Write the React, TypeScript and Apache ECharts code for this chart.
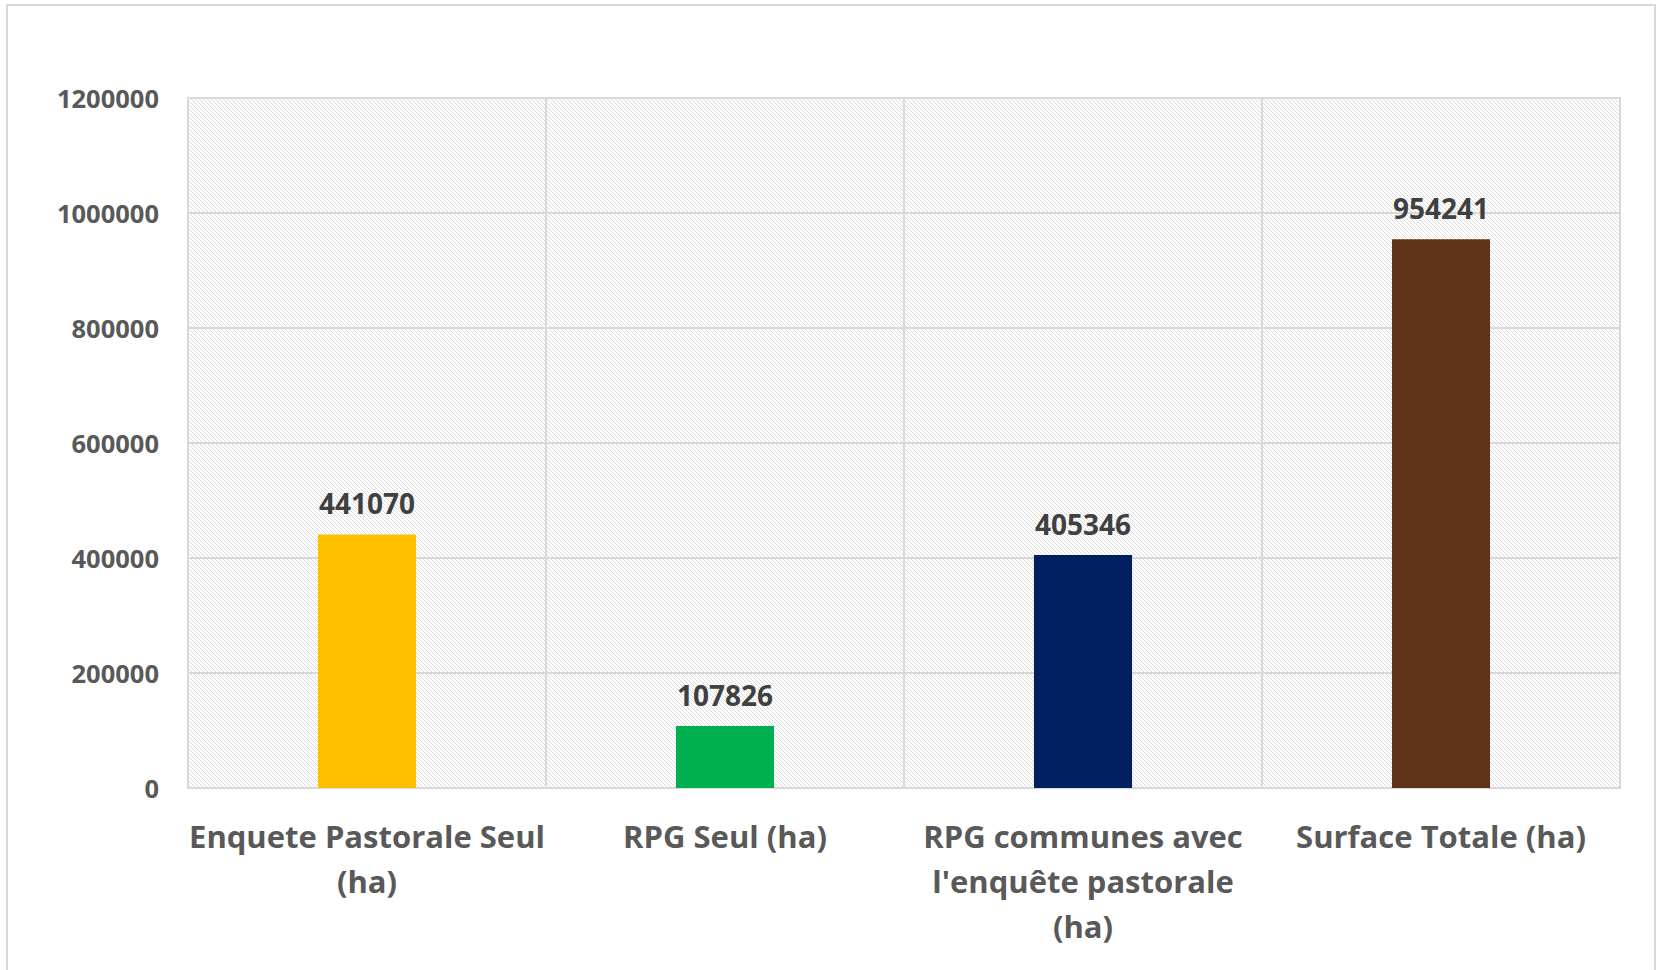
import React, { useEffect, useRef } from "react";
import * as echarts from "echarts";

const categories = [
  "Enquete Pastorale Seul\n(ha)",
  "RPG Seul (ha)",
  "RPG communes avec\nl'enquête pastorale\n(ha)",
  "Surface Totale (ha)",
];
const values = [441070, 107826, 405346, 954241];
const barColors = ["#FFC000", "#00B050", "#002060", "#603318"];
const yTicks = { min: 0, max: 1200000, interval: 200000 };

function makeHatch(): HTMLCanvasElement {
  const c = document.createElement("canvas");
  c.width = 4;
  c.height = 4;
  const ctx = c.getContext("2d")!;
  ctx.fillStyle = "#ffffff";
  ctx.fillRect(0, 0, 4, 4);
  ctx.fillStyle = "#dcdcdc";
  for (let i = 0; i < 4; i++) ctx.fillRect(i, i, 1, 1);
  return c;
}

export default function App() {
  const ref = useRef<HTMLDivElement>(null);
  useEffect(() => {
    if (!ref.current) return;
    const chart = echarts.init(ref.current, undefined, { renderer: "svg" });
    const font = "Open Sans";
    chart.setOption({
      animation: false,
      backgroundColor: "#ffffff",
      graphic: [
        {
          type: "rect",
          shape: { x: 7, y: 5, width: 1648, height: 980 },
          style: { fill: "none", stroke: "#d9d9d9", lineWidth: 2 },
          silent: true,
          z: -1,
        },
      ],
      grid: {
        left: 188,
        right: 37,
        top: 98,
        bottom: 182,
        show: true,
        backgroundColor: { image: makeHatch(), repeat: "repeat" },
        borderColor: "#d9d9d9",
        borderWidth: 2,
      },
      xAxis: {
        type: "category",
        data: categories,
        axisLine: { show: true, lineStyle: { color: "#d9d9d9", width: 2 } },
        axisTick: { show: false },
        splitLine: { show: true, lineStyle: { color: "#d9d9d9", width: 2 } },
        axisLabel: {
          interval: 0,
          margin: 25,
          color: "#595959",
          fontFamily: font,
          fontWeight: "bold",
          fontSize: 31,
          lineHeight: 45,
          align: "center",
        },
      },
      yAxis: {
        type: "value",
        min: yTicks.min,
        max: yTicks.max,
        interval: yTicks.interval,
        axisLine: { show: false },
        axisTick: { show: false },
        splitLine: { show: true, lineStyle: { color: "#d9d9d9", width: 2 } },
        axisLabel: {
          margin: 29,
          color: "#595959",
          fontFamily: font,
          fontWeight: "bold",
          fontSize: 25.5,
          formatter: (v: number) => String(v),
        },
      },
      series: [
        {
          type: "bar",
          data: values.map((v, i) => ({ value: v, itemStyle: { color: barColors[i] } })),
          barWidth: "27.4%",
          label: {
            show: true,
            position: "top",
            distance: 17,
            color: "#404040",
            fontFamily: font,
            fontWeight: "bold",
            fontSize: 28,
          },
        },
      ],
    });
    return () => chart.dispose();
  }, []);
  return (
    <div
      ref={ref}
      style={{ position: "fixed", left: 0, top: 0, width: 1657, height: 970 }}
    />
  );
}
